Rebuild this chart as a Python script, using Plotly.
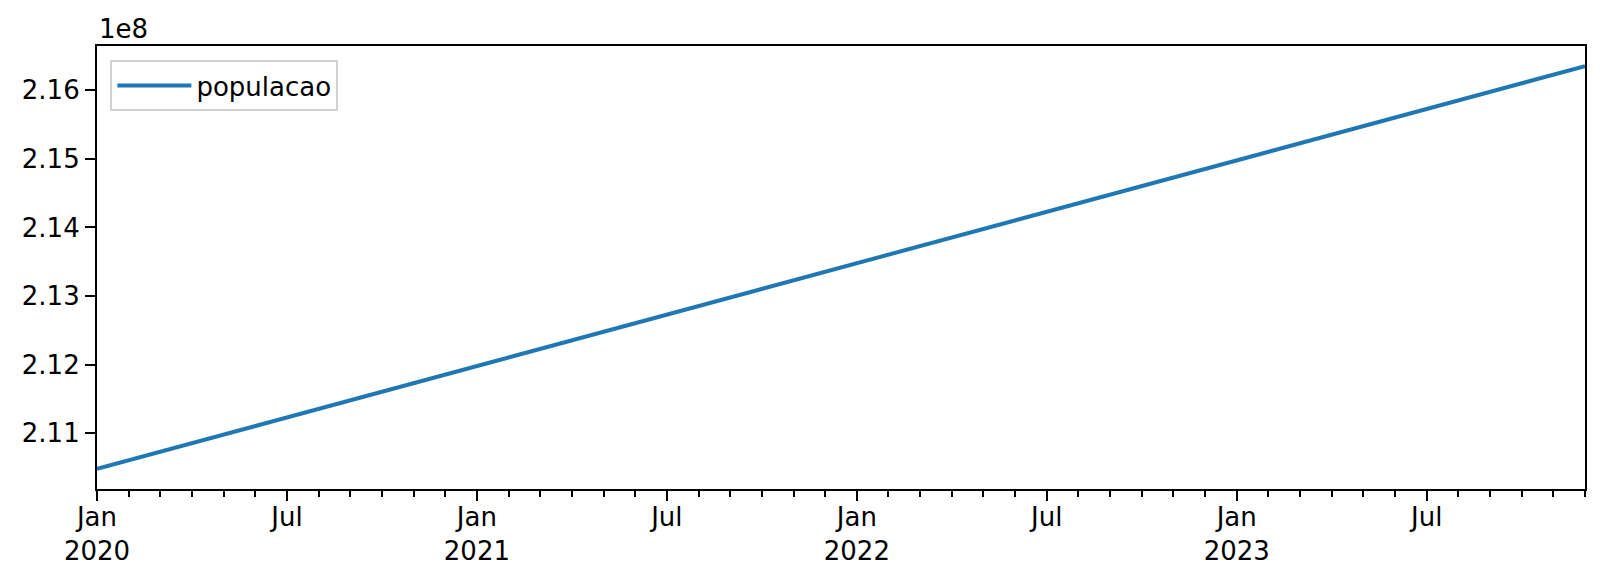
import plotly.graph_objects as go
import pandas as pd

# Data (monthly)
months = pd.period_range("2020-01", "2023-12", freq="M").strftime("%Y-%m").tolist()
populacao = [
    210.480e6, 210.605e6, 210.730e6, 210.855e6, 210.980e6, 211.105e6,
    211.230e6, 211.355e6, 211.480e6, 211.604e6, 211.729e6, 211.854e6,
    211.979e6, 212.104e6, 212.229e6, 212.354e6, 212.479e6, 212.604e6,
    212.729e6, 212.854e6, 212.979e6, 213.104e6, 213.229e6, 213.354e6,
    213.479e6, 213.604e6, 213.728e6, 213.853e6, 213.978e6, 214.103e6,
    214.228e6, 214.353e6, 214.478e6, 214.603e6, 214.728e6, 214.853e6,
    214.978e6, 215.103e6, 215.228e6, 215.353e6, 215.478e6, 215.603e6,
    215.727e6, 215.852e6, 215.977e6, 216.102e6, 216.227e6, 216.352e6,
]
series_name = "populacao"

x_tick_months = ["2020-01", "2020-07", "2021-01", "2021-07",
                 "2022-01", "2022-07", "2023-01", "2023-07"]
x_ticktext = ["Jan<br>2020", "Jul", "Jan<br>2021", "Jul",
              "Jan<br>2022", "Jul", "Jan<br>2023", "Jul"]
y_tickvals = [2.11e8, 2.12e8, 2.13e8, 2.14e8, 2.15e8, 2.16e8]
y_ticktext = ["2.11", "2.12", "2.13", "2.14", "2.15", "2.16"]
offset_text = "1e8"

FONT = "DejaVu Sans"
FS = 26

# monthly periods are evenly spaced (like a pandas period axis)
x_pos = list(range(len(months)))
x_tickvals = [months.index(m) for m in x_tick_months]

fig = go.Figure()
fig.add_trace(go.Scatter(
    x=x_pos, y=populacao, mode="lines", name=series_name,
    customdata=months, hovertemplate="%{customdata}: %{y}<extra></extra>",
    line=dict(color="#1f77b4", width=4),
))

ymin, ymax = min(populacao), max(populacao)
pad = (ymax - ymin) * 0.05

axis_common = dict(
    showline=True, linecolor="black", linewidth=2.2, mirror=True,
    ticks="outside", ticklen=10, tickwidth=2.2, tickcolor="black",
    showgrid=False, zeroline=False, automargin=False,
    tickfont=dict(family=FONT, size=FS, color="black"),
)

fig.update_xaxes(
    **axis_common,
    range=[x_pos[0], x_pos[-1]],
    tickmode="array", tickvals=x_tickvals, ticktext=x_ticktext,
    tickangle=0, ticklabelstandoff=-6,
    minor=dict(ticks="outside", ticklen=6, tickwidth=1.7, tickcolor="black",
               dtick=1, tick0=0, showgrid=False),
)
fig.update_yaxes(
    **axis_common,
    range=[ymin - pad, ymax + pad],
    tickmode="array", tickvals=y_tickvals, ticktext=y_ticktext,
)

fig.add_annotation(
    text=offset_text, xref="paper", yref="paper", x=0, y=1,
    xanchor="left", yanchor="bottom", showarrow=False, yshift=0,
    font=dict(family=FONT, size=FS, color="black"),
)

# the HTML body adds an 8px margin, compensated here
fig.update_layout(
    width=1604, height=584,
    margin=dict(l=89, r=27, t=38, b=103, pad=0),
    paper_bgcolor="white", plot_bgcolor="white",
    font=dict(family=FONT, size=FS, color="black"),
    showlegend=True,
    legend=dict(
        x=0.009, y=0.968, xanchor="left", yanchor="top",
        bgcolor="rgba(255,255,255,0.8)", bordercolor="#d0d0d0", borderwidth=2,
        itemwidth=74,
        font=dict(family=FONT, size=FS, color="black"),
    ),
)

fig.write_html("out.html")
